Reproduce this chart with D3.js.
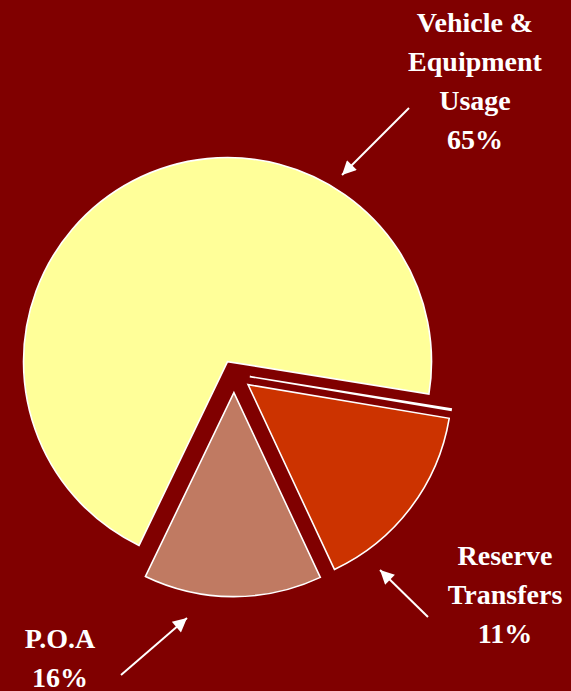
<!DOCTYPE html>
<html>
<head>
<meta charset="utf-8">
<script src="https://cdn.jsdelivr.net/npm/d3@7"></script>
<style>
  html, body { margin: 0; padding: 0; background: #800000; }
  svg { display: block; }
</style>
</head>
<body>
<svg id="chart" width="571" height="691"></svg>
<script>
// ---- data ----
const categories = ["Vehicle & Equipment Usage", "Other", "Reserve Transfers", "P.O.A"];
const values = [70.4, 0.1, 15.4, 14.1];
const labelLines = [["Vehicle &", "Equipment", "Usage", "65%"], [], ["Reserve", "Transfers", "11%"], ["P.O.A", "16%"]];

// ---- style / layout ----
const colors = ["#FFFF99", "#800000", "#CC3300", "#C07A62"];
const explode = [14, 16, 17.6, 18.6];
const W = 571, H = 691;
const cx = 234, cy = 374, R = 204;
const deg = Math.PI / 180;

const svg = d3.select("#chart");
svg.append("rect").attr("width", W).attr("height", H).attr("fill", "#800000");

const pie = d3.pie().sort(null).value(d => d)
  .startAngle(-154.3 * deg).endAngle(205.7 * deg);
const arcs = pie(values);
const arc = d3.arc().innerRadius(0).outerRadius(R);

const g = svg.append("g").attr("transform", `translate(${cx},${cy})`);
g.selectAll("path.slice").data(arcs).join("path")
  .attr("class", "slice")
  .attr("d", arc)
  .attr("transform", (d, i) => {
    const m = (d.startAngle + d.endAngle) / 2;
    return `translate(${Math.sin(m) * explode[i]},${-Math.cos(m) * explode[i]})`;
  })
  .attr("fill", (d, i) => colors[i])
  .attr("stroke", "#FFFFFF")
  .attr("stroke-width", 1.6)
  .attr("stroke-linejoin", "miter");

// ---- labels ----
const labelPos = [
  { x: 475, y: 32 },
  null,
  { x: 505, y: 565 },
  { x: 60, y: 648 }
];
const lineH = 39;
labelLines.forEach((lines, i) => {
  if (!labelPos[i]) return;
  const t = svg.append("text")
    .attr("text-anchor", "middle")
    .attr("font-family", "'Liberation Serif', 'Times New Roman', serif")
    .attr("font-weight", "bold")
    .attr("font-size", 28)
    .attr("fill", "#FFFFFF");
  lines.forEach((ln, k) => {
    t.append("tspan").attr("x", labelPos[i].x).attr("y", labelPos[i].y + k * lineH).text(ln);
  });
});

// ---- arrows ----
const arrows = [
  { x1: 409, y1: 108, x2: 342, y2: 175 },
  { x1: 428, y1: 617, x2: 380, y2: 570 },
  { x1: 121, y1: 675, x2: 187, y2: 618 }
];
const defs = svg.append("defs");
defs.append("marker")
  .attr("id", "ah")
  .attr("viewBox", "0 0 10 10")
  .attr("refX", 10).attr("refY", 5)
  .attr("markerUnits", "userSpaceOnUse")
  .attr("markerWidth", 17).attr("markerHeight", 14)
  .attr("orient", "auto")
  .append("path").attr("d", "M0,0 L10,5 L0,10 Z").attr("fill", "#FFFFFF");

svg.selectAll("line.arrow").data(arrows).join("line")
  .attr("class", "arrow")
  .attr("x1", d => d.x1).attr("y1", d => d.y1)
  .attr("x2", d => d.x2).attr("y2", d => d.y2)
  .attr("stroke", "#FFFFFF")
  .attr("stroke-width", 2)
  .attr("marker-end", "url(#ah)");
</script>
</body>
</html>
